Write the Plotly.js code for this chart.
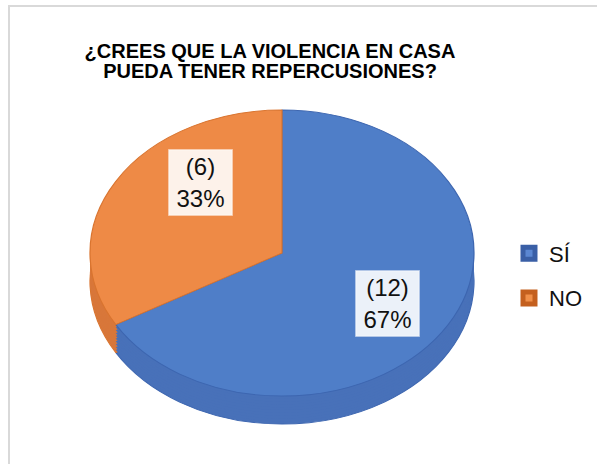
<!DOCTYPE html>
<html>
<head>
<meta charset="utf-8">
<script src="https://cdn.plot.ly/plotly-3.0.1.min.js"></script>
<style>
  html, body { margin: 0; padding: 0; background: #ffffff; }
  #wrap { position: relative; width: 597px; height: 464px; overflow: hidden; }
  #frame { position: absolute; left: 8px; top: 5px; width: 700px; height: 600px;
           border: 2px solid #d9d9d9; box-sizing: border-box; pointer-events: none; }
  #chart { position: absolute; left: 0; top: 0; width: 597px; height: 464px; }
</style>
</head>
<body>
<div id="wrap">
  <div id="frame"></div>
  <div id="chart"></div>
</div>
<script>
// ---- data ----
const labels = ['SÍ', 'NO'];
const values = [12, 6];
const titleLines = ['¿CREES QUE LA VIOLENCIA EN CASA', 'PUEDA TENER REPERCUSIONES?'];

// ---- styling ----
const topColors  = ['#4f7ec8', '#ee8a46'];
const sideColors = ['#4871b9', '#d8773a'];
const lineColors = ['#3d66b0', '#d9742f'];
const legendFill = ['#5b87d2', '#f0904a'];
const legendLine = ['#3a5fa6', '#c4601f'];
const labelAngleNudge = [2.6, 19];   // degrees, label placement tweak (Excel best-fit)
const W = 597, H = 464;
const CX = 282, CY = 253;      // screen centre of the top face
const R = 192;                 // horizontal radius (px)
const S = 0.745;               // vertical squash of the tilted pie
const DEPTH = 28;              // screen depth of the pie side (px)
const UCY = 200;               // unsquashed centre used for the pie domain
const LAYERS = 10;

function domainAt(shiftPx) {
  const cyFromBottom = H - (UCY + shiftPx);
  return {
    x: [(CX - R) / W, (CX + R) / W],
    y: [(cyFromBottom - R) / H, (cyFromBottom + R) / H]
  };
}

const base = {
  type: 'pie', labels: labels, values: values, sort: false,
  direction: 'clockwise', rotation: 0, textinfo: 'none',
  hoverinfo: 'none', showlegend: false
};

const traces = [];
// legend sources: one tiny pie per label, hidden under the top face
labels.forEach((lab, i) => {
  traces.push(Object.assign({}, base, {
    labels: [lab], values: [values[i]],
    domain: { x: [(CX - 1) / W, (CX + 1) / W], y: [(H - UCY - 1) / H, (H - UCY + 1) / H] },
    showlegend: true, legendgroup: 'g' + i,
    marker: { colors: [legendFill[i]], line: { color: [legendLine[i]], width: 5 } }
  }));
});
// side layers, deepest first
for (let k = LAYERS; k >= 1; k--) {
  const shift = (DEPTH / S) * k / LAYERS;
  traces.push(Object.assign({}, base, {
    domain: domainAt(shift),
    marker: { colors: sideColors,
              line: { color: k === LAYERS ? lineColors : sideColors, width: k === LAYERS ? 1.2 : 0 } }
  }));
}
// top face
traces.push(Object.assign({}, base, {
  domain: domainAt(0),
  marker: { colors: topColors, line: { color: lineColors, width: 1.2 } }
}));

// labels placed from slice mid-angles
const total = values.reduce((a, b) => a + b, 0);
const annotations = [];
let cum = 0;
values.forEach((v, i) => {
  const mid = (cum + v / 2) / total * 2 * Math.PI + labelAngleNudge[i] * Math.PI / 180;
  cum += v;
  const rr = 0.65 * R;
  const xs = CX + rr * Math.sin(mid);
  const ys = CY - rr * Math.cos(mid) * S;
  annotations.push({
    xref: 'paper', yref: 'paper', x: xs / W, y: 1 - ys / H,
    xanchor: 'center', yanchor: 'middle', showarrow: false,
    text: '(' + v + ')<br>' + Math.round(v / total * 100) + '%',
    font: { family: 'Liberation Sans, Arial, sans-serif', size: 24, color: '#111111' },
    align: 'center', width: 58, height: 60, borderpad: 2, borderwidth: 1.5,
    bgcolor: 'rgba(255,255,255,0.89)', bordercolor: 'rgba(255,255,255,0.45)'
  });
});

const layout = {
  width: W, height: H,
  margin: { l: 0, r: 0, t: 0, b: 0 },
  paper_bgcolor: 'rgba(0,0,0,0)', plot_bgcolor: 'rgba(0,0,0,0)',
  title: {
    text: '<b>' + titleLines.join('<br>') + '</b>',
    x: 270 / W, xanchor: 'center', xref: 'paper',
    y: 1 - 58 / H, yanchor: 'top', yref: 'container',
    font: { family: 'Liberation Sans, Arial, sans-serif', size: 20, color: '#000000' }
  },
  legend: {
    x: 509 / W, xanchor: 'left', y: 1 - 276 / H, yanchor: 'middle',
    font: { family: 'Liberation Sans, Arial, sans-serif', size: 22, color: '#111111' },
    bgcolor: 'rgba(0,0,0,0)', traceorder: 'grouped', tracegroupgap: 13
  },
  annotations: annotations,
  showlegend: true
};

Plotly.newPlot('chart', traces, layout, { displayModeBar: false, staticPlot: true }).then(function () {
  const pl = document.querySelector('.pielayer');
  if (pl) {
    pl.setAttribute('transform', 'translate(0,' + (CY - UCY * S) + ') scale(1,' + S + ')');
  }
  document.querySelectorAll('.gtitle tspan.line').forEach(function (t, i) {
    if (i > 0) t.setAttribute('dy', '20px');
  });
});
</script>
</body>
</html>
